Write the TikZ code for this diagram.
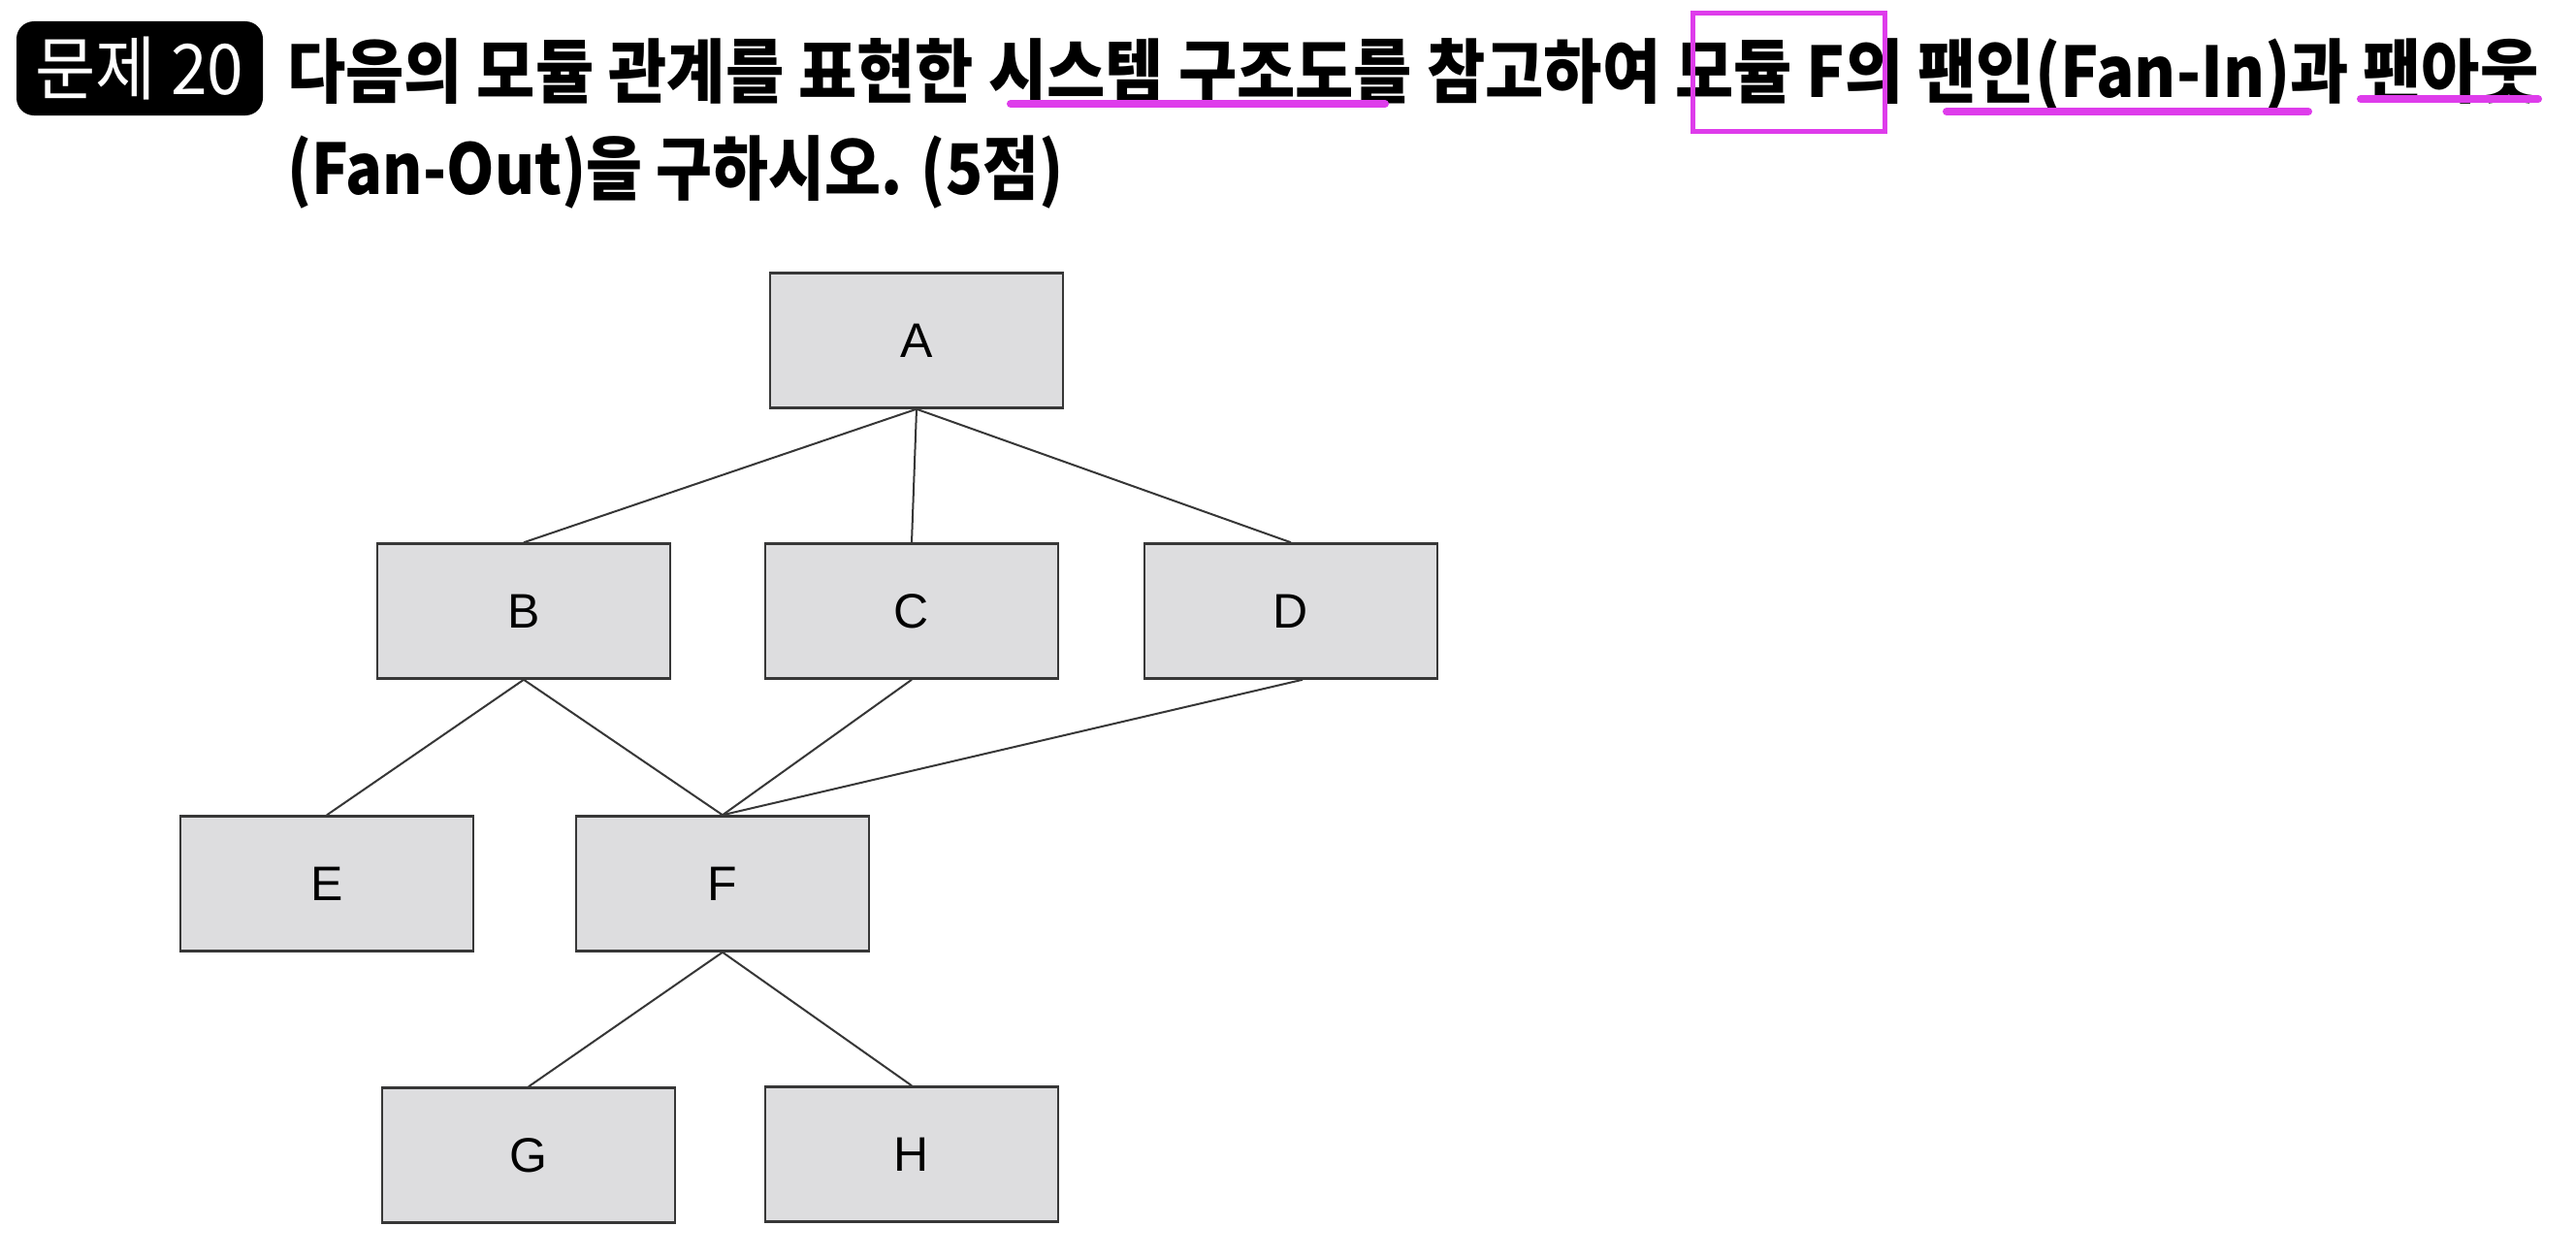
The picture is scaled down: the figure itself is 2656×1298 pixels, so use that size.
\documentclass[tikz,border=0pt]{standalone}
\usepackage{fontspec}
\setmainfont{Liberation Sans}
\newfontfamily\krA[FakeStretch=0.91]{Noto Sans CJK KR}
\newfontfamily\krB[FakeStretch=0.875]{Noto Sans CJK KR}
\newfontfamily\krC[FakeStretch=0.94]{Noto Sans CJK KR}
\definecolor{boxfill}{RGB}{221,221,223}
\definecolor{boxline}{RGB}{55,55,55}
\definecolor{mag}{RGB}{222,60,235}
\begin{document}
\begin{tikzpicture}[x=1pt,y=-1pt,
  module/.style={draw=boxline,line width=2.5pt,fill=boxfill,minimum width=302pt,minimum height=139pt,inner sep=0pt,font=\fontsize{50}{60}\selectfont},
  link/.style={draw=boxline,line width=2pt},
  hilite/.style={draw=mag,line width=8pt,line cap=round},
  titletext/.style={anchor=base west,inner sep=0pt}
]
\useasboundingbox (0,0) rectangle (2656,1298);
\fill[white] (0,0) rectangle (2656,1298);

% title
\node[fill=black,rounded corners=18pt,minimum width=254pt,minimum height=97pt,inner sep=0pt,text=white,font=\krC\fontsize{72}{80}\selectfont] (badge) at (144,70.5) {문제 20};
\node[titletext,font=\krA\bfseries\fontsize{72}{80}\selectfont] (t1) at (296,100) {다음의 모듈 관계를 표현한 시스템 구조도를 참고하여 모듈 F의 팬인(Fan-In)과 팬아웃};
\node[titletext,font=\krB\bfseries\fontsize{72}{80}\selectfont] (t2) at (296,200) {(Fan-Out)을 구하시오. (5점)};

% annotations
\draw[hilite] (1042,107) -- (1428,107);
\draw[draw=mag,line width=5pt] (1745,14) rectangle (1943,135);
\draw[hilite] (2007,115) -- (2380,115);
\draw[hilite] (2434,102) -- (2617,102);

% modules
\node[module] (A) at (945,351) {A};
\node[module] (B) at (540,630) {B};
\node[module] (C) at (940,630) {C};
\node[module] (D) at (1331,630) {D};
\node[module] (E) at (337,911) {E};
\node[module] (F) at (745,911) {F};
\node[module] (G) at (545,1191) {G};
\node[module] (H) at (940,1190) {H};

% connectors
\draw[link] (A.south) -- (B.north);
\draw[link] (A.south) -- (C.north);
\draw[link] (A.south) -- (D.north);
\draw[link] (B.south) -- (E.north);
\draw[link] (B.south) -- (F.north);
\draw[link] (C.south) -- (F.north);
\draw[link] ([xshift=12pt]D.south) -- (F.north);
\draw[link] (F.south) -- (G.north);
\draw[link] (F.south) -- (H.north);
\end{tikzpicture}
\end{document}
